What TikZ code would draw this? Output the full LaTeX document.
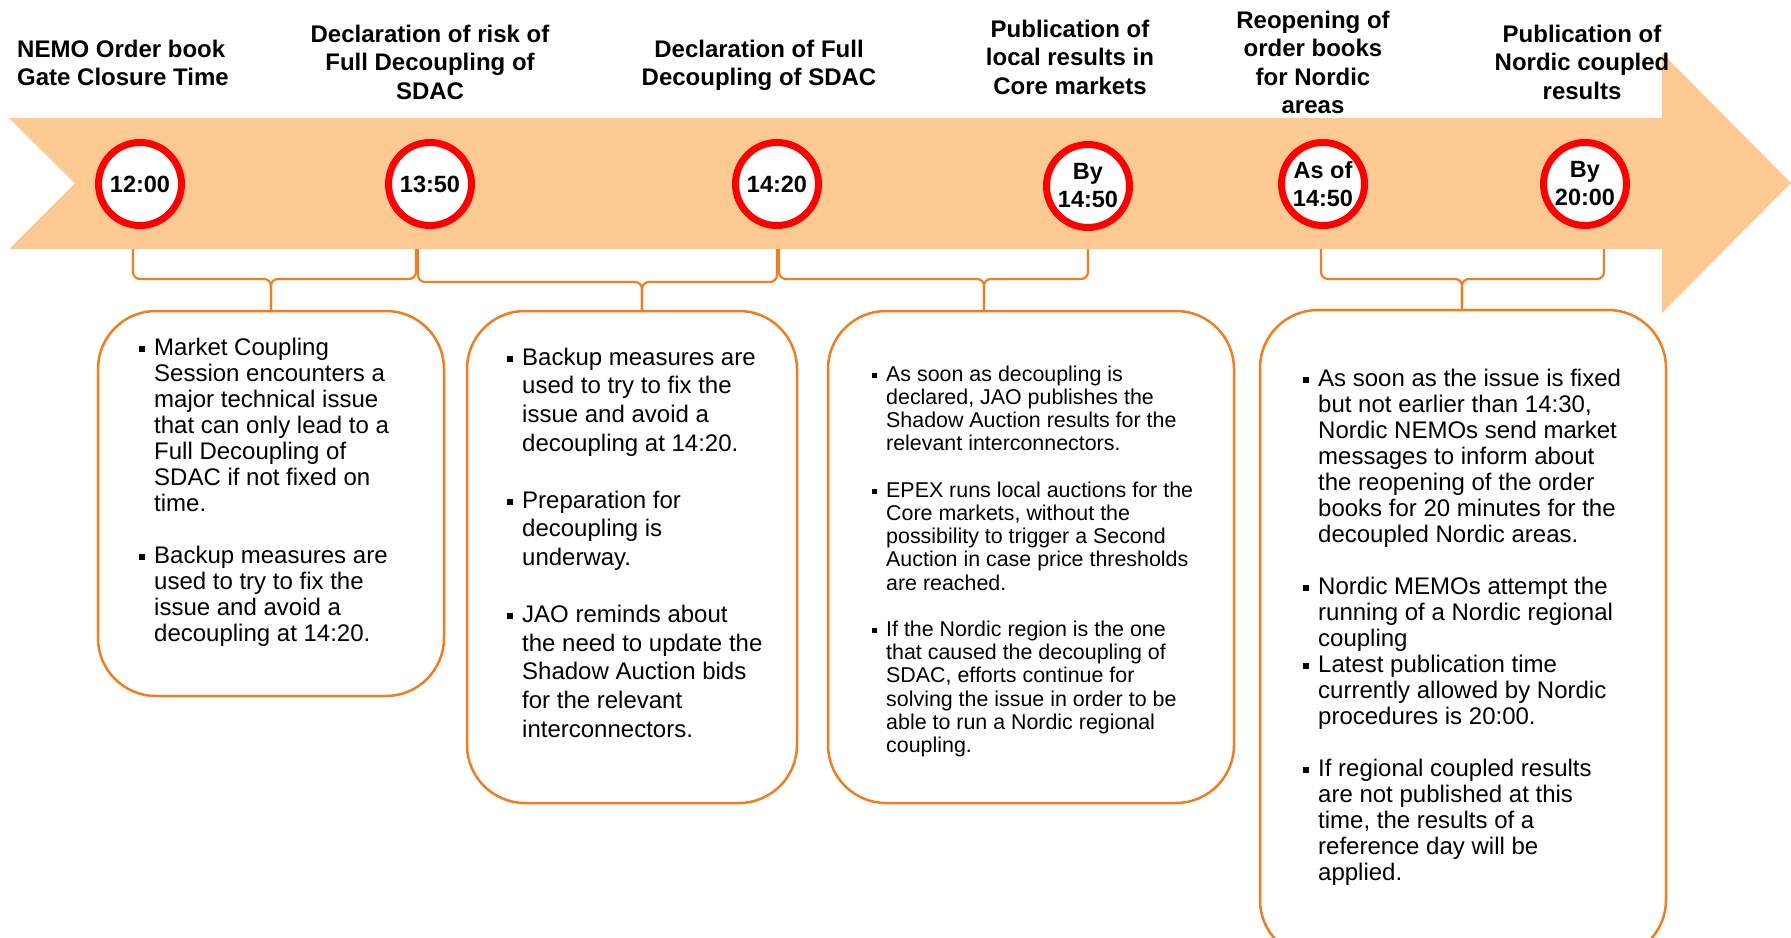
\documentclass[tikz,border=0pt]{standalone}
\usepackage{fontspec}
\setmainfont{Liberation Sans}
\definecolor{bandc}{HTML}{FCC993}
\definecolor{org}{HTML}{EE7E22}
\definecolor{ringred}{HTML}{FF0000}
\newcommand{\bul}{\llap{\rule[0.15em]{0.25em}{0.25em}\hspace{9pt}}}
\begin{document}
\begin{tikzpicture}[x=1pt,y=-1pt,
  ring/.style={circle, draw=ringred, line width=7pt, fill=white, minimum size=83pt, inner sep=0pt, align=center, font=\fontsize{23.5}{28}\selectfont\bfseries},
  title/.style={anchor=north, align=center, inner sep=0pt, font=\fontsize{24}{28.5}\selectfont\bfseries},
  panel/.style={draw=org, line width=2.5pt, fill=white, rounded corners=58pt, inner sep=0pt},
  brace/.style={draw=org, line width=2.2pt, rounded corners=7pt},
  btext/.style={anchor=north west, align=left, inner sep=0pt}
]
\useasboundingbox (0,0) rectangle (1791,937);
\clip (0,0) rectangle (1791,937);

% timeline arrow band
\fill[bandc] (9,118) -- (1662,118) -- (1662,53) -- (1791,183) -- (1662,313) -- (1662,249) -- (9,249) -- (75,183.5) -- cycle;

% titles
\node[title, anchor=north west, align=left] (t1) at (17,36) {\rule{0pt}{21pt}NEMO Order book\\Gate Closure Time};
\node[title] (t2) at (430,21) {\rule{0pt}{21pt}Declaration of risk of\\Full Decoupling of\\SDAC};
\node[title] (t3) at (759,36) {\rule{0pt}{21pt}Declaration of Full\\Decoupling of SDAC};
\node[title] (t4) at (1070,16) {\rule{0pt}{21pt}Publication of\\local results in\\Core markets};
\node[title] (t5) at (1313,7) {\rule{0pt}{21pt}Reopening of\\order books\\for Nordic\\areas};
\node[title] (t6) at (1582,21) {\rule{0pt}{21pt}Publication of\\Nordic coupled\\results};

% time circles
\node[ring] (c1) at (140,184) {12:00};
\node[ring] (c2) at (430,184) {13:50};
\node[ring] (c3) at (777,184) {14:20};
\node[ring] (c4) at (1088,186) {By\\14:50};
\node[ring] (c5) at (1323,184) {As of\\14:50};
\node[ring] (c6) at (1585,184) {By\\20:00};

% panels
\node[panel, minimum width=346pt, minimum height=385pt] (p1) at (271,503.5) {};
\node[panel, minimum width=330pt, minimum height=492pt] (p2) at (632,557) {};
\node[panel, minimum width=406pt, minimum height=492pt] (p3) at (1031,557) {};
\node[panel, minimum width=406pt, minimum height=648pt] (p4) at (1463,634) {};

% brace coordinates
\coordinate (b1l) at (133,249); \coordinate (b1r) at (416,249); \coordinate (b1c) at (271,279);
\coordinate (b2l) at (418,249); \coordinate (b2r) at (777,249); \coordinate (b2c) at (642,282);
\coordinate (b3l) at (779,249); \coordinate (b3r) at (1088,249); \coordinate (b3c) at (984,279);
\coordinate (b4l) at (1321,249); \coordinate (b4r) at (1604,249); \coordinate (b4c) at (1462,279);

\draw[brace] (b1l) |- (b1c) -- (b1c |- p1.north);
\draw[brace] (b1r) |- (b1c) -- (b1c |- p1.north);
\draw[brace] (b2l) |- (b2c) -- (b2c |- p2.north);
\draw[brace] (b2r) |- (b2c) -- (b2c |- p2.north);
\draw[brace] (b3l) |- (b3c) -- (b3c |- p3.north);
\draw[brace] (b3r) |- (b3c) -- (b3c |- p3.north);
\draw[brace] (b4l) |- (b4c) -- (b4c |- p4.north);
\draw[brace] (b4r) |- (b4c) -- (b4c |- p4.north);

% panel texts
\node[btext, font=\fontsize{24}{26}\selectfont] (x1) at (154,334) {\rule{0pt}{21pt}\bul Market Coupling\\
Session encounters a\\
major technical issue\\
that can only lead to a\\
Full Decoupling of\\
SDAC if not fixed on\\
time.\\[26pt]
\bul Backup measures are\\
used to try to fix the\\
issue and avoid a\\
decoupling at 14:20.};

\node[btext, font=\fontsize{24}{28.6}\selectfont] (x2) at (522,344) {\rule{0pt}{21pt}\bul Backup measures are\\
used to try to fix the\\
issue and avoid a\\
decoupling at 14:20.\\[28.6pt]
\bul Preparation for\\
decoupling is\\
underway.\\[28.6pt]
\bul JAO reminds about\\
the need to update the\\
Shadow Auction bids\\
for the relevant\\
interconnectors.};

\node[btext, font=\fontsize{21.4}{23.2}\selectfont] (x3) at (886,362) {\rule{0pt}{19pt}\bul As soon as decoupling is\\
declared, JAO publishes the\\
Shadow Auction results for the\\
relevant interconnectors.\\[23.2pt]
\bul EPEX runs local auctions for the\\
Core markets, without the\\
possibility to trigger a Second\\
Auction in case price thresholds\\
are reached.\\[23.2pt]
\bul If the Nordic region is the one\\
that caused the decoupling of\\
SDAC, efforts continue for\\
solving the issue in order to be\\
able to run a Nordic regional\\
coupling.};

\node[btext, font=\fontsize{24}{26}\selectfont] (x4) at (1318,365) {\rule{0pt}{21pt}\bul As soon as the issue is fixed\\
but not earlier than 14:30,\\
Nordic NEMOs send market\\
messages to inform about\\
the reopening of the order\\
books for 20 minutes for the\\
decoupled Nordic areas.\\[26pt]
\bul Nordic MEMOs attempt the\\
running of a Nordic regional\\
coupling\\
\bul Latest publication time\\
currently allowed by Nordic\\
procedures is 20:00.\\[26pt]
\bul If regional coupled results\\
are not published at this\\
time, the results of a\\
reference day will be\\
applied.};
\end{tikzpicture}
\end{document}
